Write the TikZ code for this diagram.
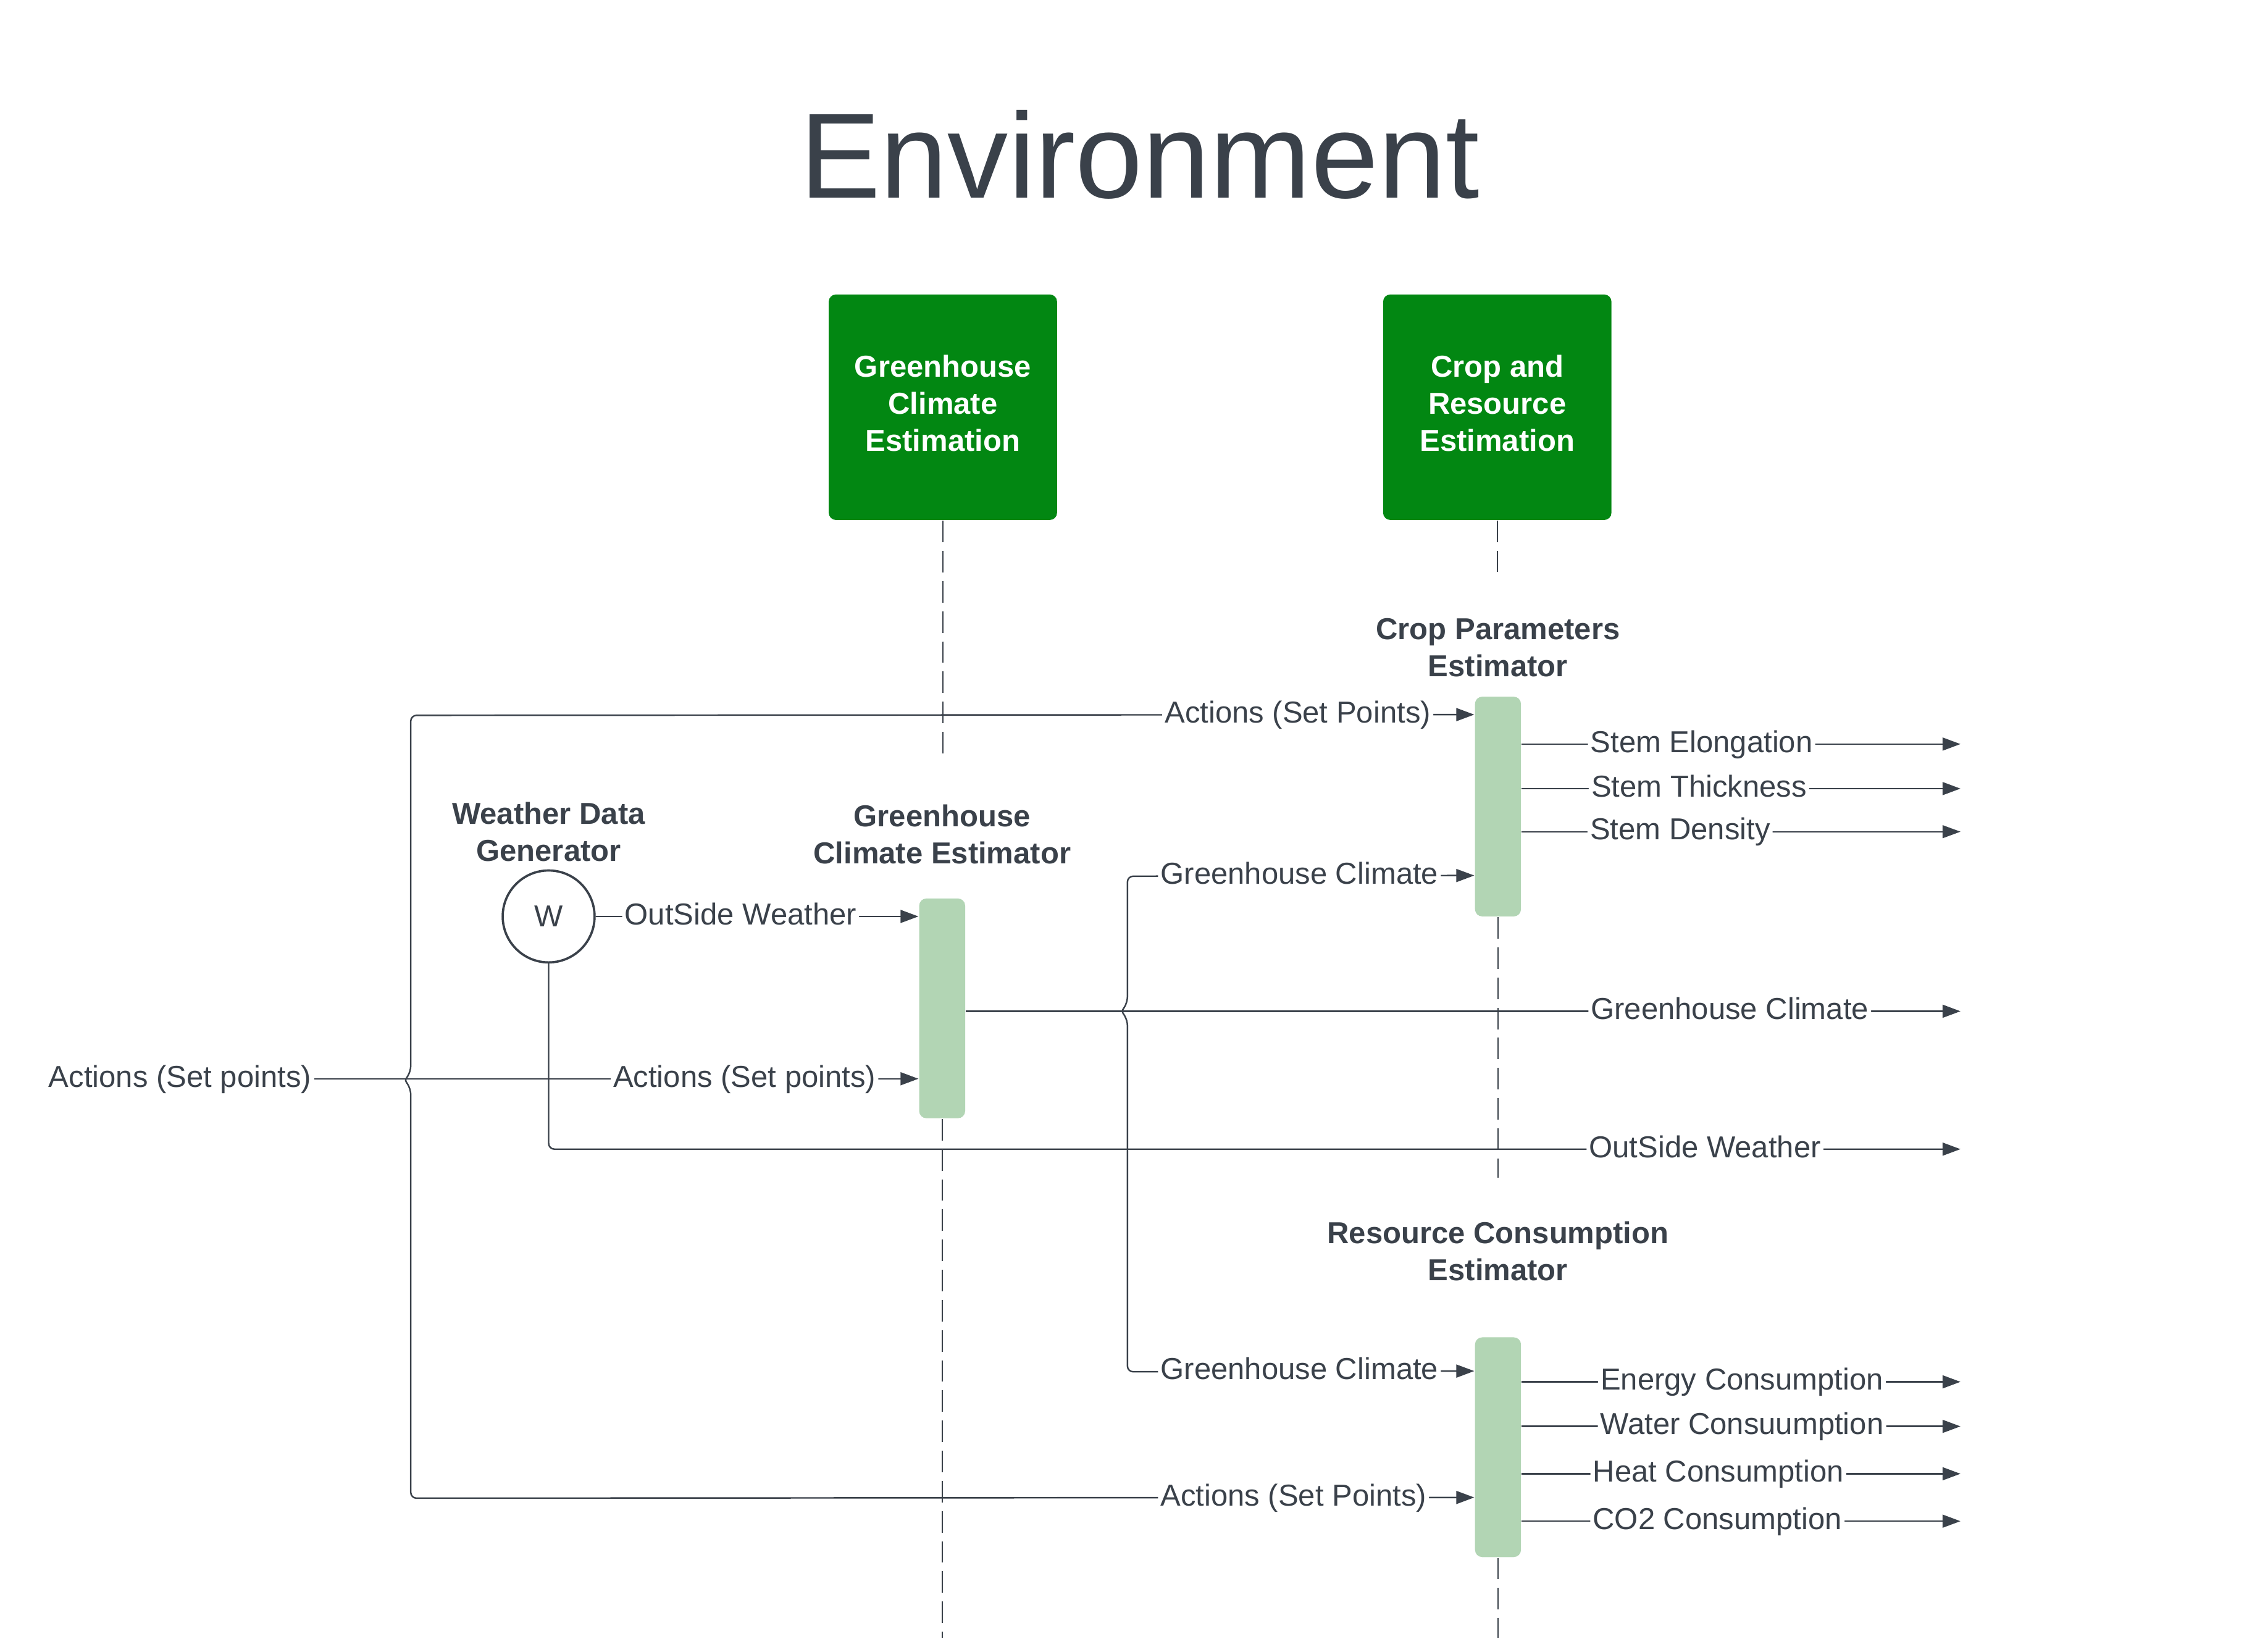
\documentclass[tikz,border=0pt]{standalone}
\usepackage{fontspec}
\setmainfont{Liberation Sans}
\usepackage{tikz}
\usetikzlibrary{arrows.meta,calc}
\definecolor{ink}{RGB}{58,65,74}
\definecolor{boxgreen}{RGB}{2,135,18}
\definecolor{actgreen}{RGB}{178,213,180}
\newcommand{\lowstrut}{\rule[-3.4pt]{0pt}{0pt}}

\begin{document}
\begin{tikzpicture}[x=0.02cm, y=-0.02cm, line width=0.6pt, color=ink,
		font=\fontsize{12}{14.7}\selectfont,
		>={Triangle[length=0.25cm,width=0.18cm]},
		actor/.style={fill=boxgreen, rounded corners=0.1cm, minimum width=3.18cm, minimum height=3.14cm, text=white, font=\fontsize{12}{14.7}\selectfont\bfseries, align=center},
		bar/.style={fill=actgreen, rounded corners=0.1cm, minimum width=0.64cm, minimum height=3.06cm, inner sep=0pt},
		head/.style={font=\fontsize{12}{14.7}\selectfont\bfseries, align=center},
		lbl/.style={fill=white, inner sep=1pt, text height=9pt, text depth=2.5pt},
		life/.style={line width=0.45pt, dash pattern=on 0.3cm off 0.12cm},
		flow/.style={->, rounded corners=0.08cm}]
		\useasboundingbox (0,0) rectangle (1568,1149.7);
		\node[font=\fontsize{48}{58}\selectfont, anchor=base] (title) at (793.5,138) {Environment};
		\node[actor] (GCE) at (656.5,283.5) {Greenhouse\\Climate\\Estimation\lowstrut};
		\node[actor] (CRE) at (1042.5,283.5) {Crop and\\Resource\\Estimation\lowstrut};
%
		\node[head] (hW) at (382,579) {Weather Data\\Generator};
		\node[head] (hGCB) at (656,581) {Greenhouse\\Climate Estimator};
		\node[head] (hCPE) at (1043,451) {Crop Parameters\\Estimator};
		\node[head] (hRCE) at (1043,871) {Resource Consumption\\Estimator};
%
		\node[circle, draw, line width=0.9pt, minimum size=1.28cm, inner sep=0pt] (W) at (382,638) {W};
		\node[bar] (GCB) at (656,702) {};
		\node[bar] (CPE) at (1043,561.5) {};
		\node[bar] (RCE) at (1043,1007.5) {};
		\node[lbl, fill=none, anchor=east] (act) at (219,751) {Actions (Set points)};
%
		\draw[life] (GCE.south) -- (GCE.south |- 0,527);
		\draw[life] (GCB.south) -- (GCB.south |- 0,1140);
		\draw[life] (CRE.south) -- (CRE.south |- 0,398);
		\draw[life] (CPE.south) -- (CPE.south |- 0,820);
		\draw[life] (RCE.south) -- (RCE.south |- 0,1140);
%
		\coordinate (oW) at (1365,800);
		\coordinate (oGC) at (1365,704);
		\coordinate (oSE) at (1365,518);
		\coordinate (oST) at (1365,549);
		\coordinate (oSD) at (1365,579);
		\coordinate (oEC) at (1365,962);
		\coordinate (oWC) at (1365,993);
		\coordinate (oHC) at (1365,1026);
		\coordinate (oCC) at (1365,1059);
%
		\draw[flow] (W.east) -- node[lbl,pos=0.449] {OutSide Weather} (W.east -| GCB.west);
		\draw[flow] (act.east) -- node[lbl,pos=0.712] {Actions (Set points)} (act.east -| GCB.west);
		\draw[flow] (W.south) -- (W.south |- oW) -- node[lbl,pos=0.819] {OutSide Weather} (oW);
		\draw[flow] (GCB.east |- oGC) -- node[lbl,pos=0.768] {Greenhouse Climate} (oGC);
		\draw[<->, rounded corners=0.08cm] ($(RCE.north west)+(0,112)$) -- node[lbl,pos=0.17] {Actions (Set Points)} (286,1043)
			-- (286,758) .. controls (282,752) .. (286,746) -- (286,498)
			-- node[lbl,pos=0.834] {Actions (Set Points)} ($(CPE.north west)+(0,13)$);
		\draw[<->, rounded corners=0.08cm] ($(RCE.north west)+(0,24)$) -- node[lbl,pos=0.504] {Greenhouse Climate} (785,955)
			-- (785,710) .. controls (781,704) .. (785,698) -- (785,610)
			-- node[lbl,pos=0.496] {Greenhouse Climate} ($(CPE.north west)+(0,125)$);
%
		\draw[flow] (CPE.east |- oSE) -- node[lbl,pos=0.410] {Stem Elongation} (oSE);
		\draw[flow] (CPE.east |- oST) -- node[lbl,pos=0.404] {Stem Thickness} (oST);
		\draw[flow, line width=0.4pt] (CPE.east |- oSD) -- node[lbl,pos=0.361] {Stem Density} (oSD);
		\draw[flow] (RCE.east |- oEC) -- node[lbl,pos=0.502] {Energy Consumption} (oEC);
		\draw[flow] (RCE.east |- oWC) -- node[lbl,pos=0.502] {Water Consuumption} (oWC);
		\draw[flow] (RCE.east |- oHC) -- node[lbl,pos=0.448] {Heat Consumption} (oHC);
		\draw[flow] (RCE.east |- oCC) -- node[lbl,pos=0.446] {CO2 Consumption} (oCC);
	\end{tikzpicture}
\end{document}
